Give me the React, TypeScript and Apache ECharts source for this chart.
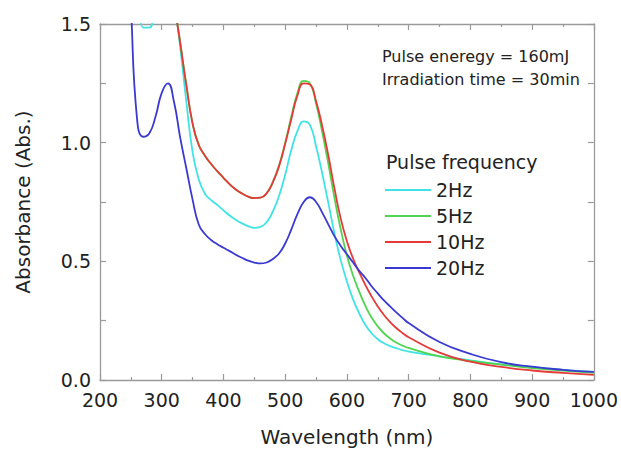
import React, { useEffect, useRef } from "react";
import * as echarts from "echarts";

const wavelengths = [240, 250, 260, 270, 280, 290, 300, 310, 320, 330, 340, 350, 360, 370, 380, 390, 400, 410, 420, 430, 440, 450, 460, 470, 480, 490, 500, 510, 520, 530, 540, 550, 560, 570, 580, 590, 600, 610, 620, 630, 640, 650, 660, 670, 680, 690, 700, 750, 800, 850, 900, 950, 1000];

const hz2 = [null, null, 1.72, 1.485, 1.485, 1.62, 1.72, 1.75, 1.6, 1.4, 1.17, 0.96, 0.845, 0.785, 0.758, 0.738, 0.715, 0.693, 0.675, 0.66, 0.648, 0.641, 0.645, 0.665, 0.71, 0.775, 0.865, 0.97, 1.05, 1.09, 1.075, 0.985, 0.87, 0.745, 0.615, 0.505, 0.415, 0.34, 0.28, 0.232, 0.197, 0.172, 0.155, 0.143, 0.134, 0.126, 0.12, 0.1, 0.083, 0.066, 0.054, 0.043, 0.034];

const hz5 = [null, null, null, null, null, null, null, 1.85, 1.6, 1.42, 1.24, 1.08, 0.99, 0.945, 0.91, 0.88, 0.852, 0.825, 0.803, 0.786, 0.773, 0.766, 0.768, 0.787, 0.835, 0.905, 1.0, 1.11, 1.21, 1.26, 1.25, 1.165, 1.045, 0.91, 0.765, 0.635, 0.525, 0.44, 0.372, 0.312, 0.263, 0.226, 0.197, 0.175, 0.158, 0.145, 0.135, 0.1, 0.08, 0.065, 0.05, 0.04, 0.03];

const hz10 = [null, null, null, null, null, null, null, 1.85, 1.6, 1.42, 1.24, 1.08, 0.99, 0.945, 0.91, 0.88, 0.852, 0.825, 0.803, 0.786, 0.773, 0.766, 0.768, 0.787, 0.833, 0.9, 0.995, 1.1, 1.2, 1.25, 1.245, 1.175, 1.07, 0.945, 0.805, 0.68, 0.585, 0.512, 0.453, 0.4, 0.352, 0.31, 0.274, 0.244, 0.219, 0.198, 0.18, 0.115, 0.077, 0.055, 0.04, 0.03, 0.022];

const hz20 = [2.1, 1.58, 1.1, 1.025, 1.04, 1.11, 1.21, 1.25, 1.17, 1.02, 0.89, 0.76, 0.655, 0.615, 0.59, 0.572, 0.557, 0.543, 0.528, 0.515, 0.503, 0.495, 0.491, 0.495, 0.51, 0.533, 0.575, 0.635, 0.7, 0.75, 0.77, 0.75, 0.705, 0.655, 0.605, 0.565, 0.53, 0.495, 0.46, 0.43, 0.395, 0.365, 0.335, 0.31, 0.285, 0.262, 0.24, 0.16, 0.11, 0.075, 0.056, 0.043, 0.034];

const seriesNames = ["2Hz", "5Hz", "10Hz", "20Hz"];
const seriesValues = [hz2, hz5, hz10, hz20];
const seriesColors = ["#3FE3E6", "#4FD44F", "#E63A3A", "#3A3AD2"];

const xTicks = { min: 200, max: 1000, interval: 100 };
const yTicks = { min: 0, max: 1.5, interval: 0.5 };

const FONT = "DejaVu Sans";
const FRAME = "#9a9a9a";

export default function App() {
  const ref = useRef<HTMLDivElement>(null);
  useEffect(() => {
    if (!ref.current) return;
    const chart = echarts.init(ref.current, null, { renderer: "svg" });
    const axisLineStyle = { lineStyle: { color: FRAME, width: 1.3 } };
    const baseX = {
      type: "value",
      min: xTicks.min,
      max: xTicks.max,
      interval: xTicks.interval,
      axisLine: { show: true, onZero: false, ...axisLineStyle },
      axisTick: { show: true, inside: true, length: 6, lineStyle: { color: FRAME, width: 1.2 } },
      minorTick: { show: true, splitNumber: 2, length: 3, lineStyle: { color: FRAME, width: 1.2 } },
      splitLine: { show: false },
    };
    const baseY = {
      type: "value",
      min: yTicks.min,
      max: yTicks.max,
      interval: yTicks.interval,
      axisLine: { show: true, onZero: false, ...axisLineStyle },
      axisTick: { show: true, inside: true, length: 6, lineStyle: { color: FRAME, width: 1.2 } },
      minorTick: { show: true, splitNumber: 2, length: 6, lineStyle: { color: FRAME, width: 1.2 } },
      splitLine: { show: false },
    };
    const option = {
      animation: false,
      backgroundColor: "#ffffff",
      grid: { left: 100, right: 26, top: 24, bottom: 69, containLabel: false },
      xAxis: [
        {
          ...baseX,
          position: "bottom",
          name: "Wavelength (nm)",
          nameLocation: "middle",
          nameGap: 47,
          nameTextStyle: { fontFamily: FONT, fontSize: 20, color: "#222" },
          axisLabel: {
            show: true,
            margin: 10,
            fontFamily: FONT,
            fontSize: 19,
            color: "#222",
            formatter: (v: number) => String(v),
          },
        },
        {
          ...baseX,
          position: "top",
          axisLabel: { show: false },
        },
      ],
      yAxis: [
        {
          ...baseY,
          position: "left",
          name: "Absorbance (Abs.)",
          nameLocation: "middle",
          nameGap: 67,
          nameRotate: 90,
          nameTextStyle: { fontFamily: FONT, fontSize: 20, color: "#222" },
          axisLabel: {
            show: true,
            margin: 9,
            fontFamily: FONT,
            fontSize: 19,
            color: "#222",
            formatter: (v: number) => v.toFixed(1),
          },
        },
        {
          ...baseY,
          position: "right",
          axisLabel: { show: false },
        },
      ],
      legend: {
        orient: "vertical",
        left: 385,
        top: 180,
        padding: 0,
        icon: "rect",
        itemWidth: 46,
        itemHeight: 2,
        itemGap: 6,
        textStyle: { fontFamily: FONT, fontSize: 19, color: "#222", lineHeight: 20, height: 20 },
        data: seriesNames,
      },
      graphic: [
        {
          type: "text",
          left: 382,
          top: 48,
          style: { text: "Pulse eneregy = 160mJ", font: `16px '${FONT}'`, fill: "#222" },
        },
        {
          type: "text",
          left: 382,
          top: 71,
          style: { text: "Irradiation time = 30min", font: `16px '${FONT}'`, fill: "#222" },
        },
        {
          type: "text",
          left: 386,
          top: 152,
          style: { text: "Pulse frequency", font: `19px '${FONT}'`, fill: "#222" },
        },
      ],
      series: seriesNames.map((name, i) => ({
        name,
        type: "line",
        xAxisIndex: 0,
        yAxisIndex: 0,
        symbol: "none",
        smooth: 0.5,
        clip: true,
        connectNulls: false,
        lineStyle: { color: seriesColors[i], width: 1.8 },
        itemStyle: { color: seriesColors[i] },
        data: wavelengths.map((w, j) => [w, seriesValues[i][j]]).filter((p) => p[1] !== null),
      })),
    };
    chart.setOption(option as any);
    return () => chart.dispose();
  }, []);
  return (
    <div
      ref={ref}
      style={{ position: "fixed", left: 0, top: 0, width: 621, height: 452 }}
    />
  );
}
